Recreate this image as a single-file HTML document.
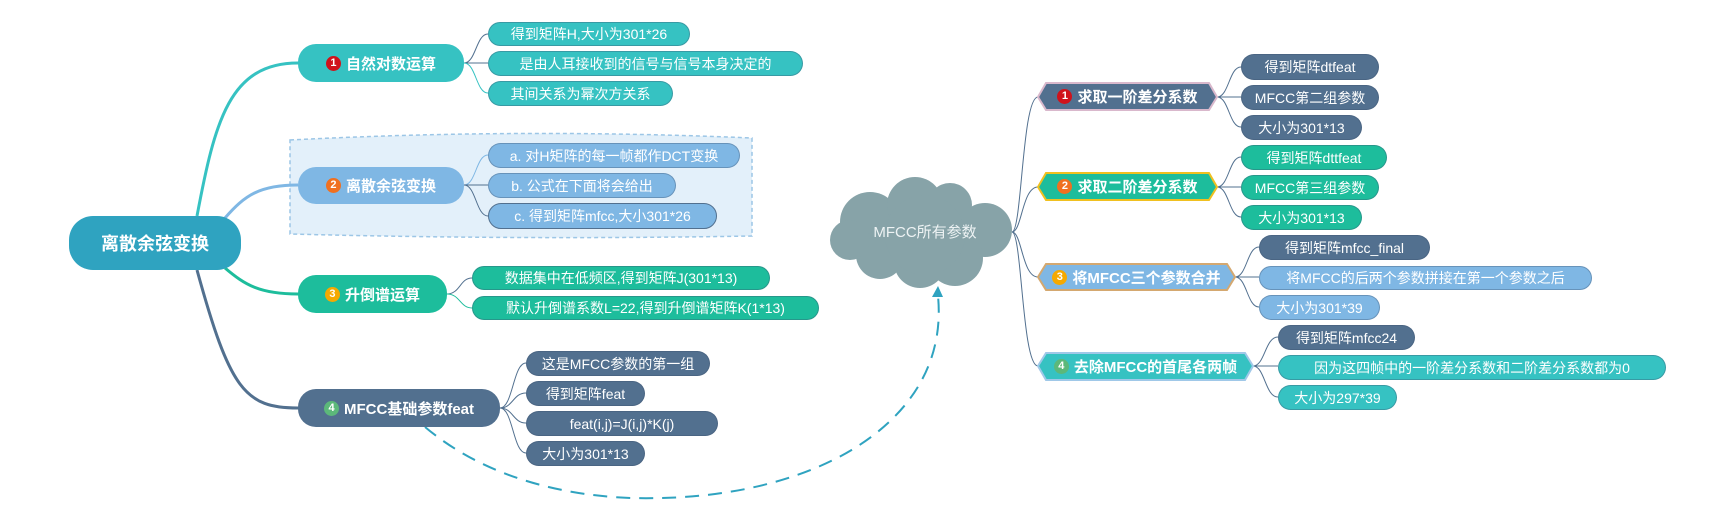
<!DOCTYPE html>
<html><head><meta charset="utf-8">
<style>
html,body{margin:0;padding:0;background:#fff;}
body{width:1731px;height:526px;position:relative;overflow:hidden;font-family:"Liberation Sans","Noto Sans CJK SC",sans-serif;}
.b{position:absolute;box-sizing:border-box;color:#fff;display:flex;align-items:center;justify-content:center;white-space:nowrap;}
.leaf{border-radius:13px;font-size:14px;border:1px solid rgba(60,80,110,0.35);}
.node{border-radius:18px;font-size:15px;font-weight:bold;}
.bd{display:inline-block;width:15px;height:15px;border-radius:50%;font-size:11px;line-height:15px;text-align:center;color:#fff;margin-right:5px;font-weight:bold;}
.tq{background:#36c2c2}.lb{background:#7fb7e4}.gr{background:#1dbd9c}.sl{background:#52708f}
.ht{position:absolute;color:#fff;font-size:15px;font-weight:bold;display:flex;align-items:center;justify-content:center;white-space:nowrap;}
</style></head><body>
<svg width="1731" height="526" style="position:absolute;left:0;top:0">
<path d="M290,140 Q520,128 752,138 L752,236 Q520,240 290,234 Z" fill="#e3f0fa" stroke="#9cc6e6" stroke-width="1.5" stroke-dasharray="4,3"/>
<path d="M197,216 C215,120 230,63 298,63" stroke="#36c2c2" stroke-width="3" fill="none"/>
<path d="M225,218 C245,195 260,185 298,185" stroke="#7fb7e4" stroke-width="3" fill="none"/>
<path d="M225,268 C245,285 260,294 298,294" stroke="#1dbd9c" stroke-width="3" fill="none"/>
<path d="M197,270 C230,390 245,408 298,408" stroke="#52708f" stroke-width="3" fill="none"/>
<g fill="none" stroke-width="1" stroke="#52708f">
<path d="M464,63 C476,63 476,34 488,34"/><path d="M464,63 L488,63"/><path d="M464,63 C476,63 476,93 488,93" stroke="#36c2c2"/>
<path d="M464,185 C476,185 476,155 488,155" stroke="#7fb7e4"/><path d="M464,185 L488,185"/><path d="M464,185 C476,185 476,216 488,216"/>
<path d="M447,294 C460,294 460,278 472,278"/><path d="M447,294 C460,294 460,308 472,308" stroke="#1dbd9c"/>
<path d="M500,408 C513,408 513,363 526,363"/><path d="M500,408 C513,408 513,393 526,393"/><path d="M500,408 C513,408 513,423 526,423"/><path d="M500,408 C513,408 513,453 526,453"/>
<path d="M1012,232 C1022,232 1022,97 1038,97"/><path d="M1012,232 C1022,232 1022,187 1038,187"/><path d="M1012,232 C1022,232 1022,277 1038,277"/><path d="M1012,232 C1022,232 1022,366 1038,366"/>
<path d="M1217,97 C1229,97 1229,67 1241,67"/><path d="M1217,97 L1241,97"/><path d="M1217,97 C1229,97 1229,127 1241,127"/>
<path d="M1217,187 C1229,187 1229,157 1241,157"/><path d="M1217,187 L1241,187"/><path d="M1217,187 C1229,187 1229,217 1241,217"/>
<path d="M1235,277 C1247,277 1247,247 1259,247"/><path d="M1235,277 L1259,277"/><path d="M1235,277 C1247,277 1247,307 1259,307"/>
<path d="M1253,366 C1265,366 1265,337 1278,337"/><path d="M1253,366 L1278,366"/><path d="M1253,366 C1265,366 1265,397 1278,397"/>
</g>
<path d="M425,427 C500,490 600,500 660,498 C820,495 950,420 938,296" stroke="#2fa3c0" stroke-width="2" fill="none" stroke-dasharray="14,9"/>
<path d="M932,297 L938,286 L943,297 Z" fill="#2fa3c0"/>
<g fill="#87a3a8">
<circle cx="870" cy="222" r="30"/><circle cx="915" cy="205" r="28"/><circle cx="950" cy="205" r="22"/><circle cx="985" cy="230" r="27"/><circle cx="955" cy="258" r="28"/><circle cx="920" cy="262" r="26"/><circle cx="880" cy="255" r="24"/><circle cx="850" cy="240" r="20"/><circle cx="925" cy="235" r="40"/>
</g>
<polygon points="1046,83 1209,83 1217,97 1209,110 1046,110 1038,97" fill="#52708f" stroke="#d9b8cc" stroke-width="2"/>
<polygon points="1046,173 1209,173 1217,187 1209,200 1046,200 1038,187" fill="#1dbd9c" stroke="#f0c020" stroke-width="2"/>
<polygon points="1046,264 1227,264 1235,277 1227,290 1046,290 1038,277" fill="#7fb7e4" stroke="#d4a870" stroke-width="2"/>
<polygon points="1046,353 1245,353 1253,366 1245,380 1046,380 1038,366" fill="#36c2c2" stroke="#a0c8e8" stroke-width="2"/>
</svg>
<div class="b" style="left:835px;top:220px;width:180px;height:22px;font-size:15px;color:#eef3f4;">MFCC所有参数</div>

<div class="b" style="left:69px;top:216px;width:172px;height:54px;border-radius:24px;background:#2fa3c0;font-size:18px;font-weight:bold;">离散余弦变换</div>

<div class="b node tq" style="left:298px;top:44px;width:166px;height:38px;"><span class="bd" style="background:#d0121b">1</span>自然对数运算</div>
<div class="b leaf tq" style="left:488px;top:22px;width:202px;height:24px;">得到矩阵H,大小为301*26</div>
<div class="b leaf tq" style="left:488px;top:51px;width:315px;height:25px;">是由人耳接收到的信号与信号本身决定的</div>
<div class="b leaf tq" style="left:488px;top:81px;width:185px;height:25px;">其间关系为幂次方关系</div>

<div class="b node lb" style="left:298px;top:167px;width:166px;height:37px;"><span class="bd" style="background:#f07020">2</span>离散余弦变换</div>
<div class="b leaf lb" style="left:488px;top:143px;width:252px;height:25px;">a. 对H矩阵的每一帧都作DCT变换</div>
<div class="b leaf lb" style="left:488px;top:173px;width:188px;height:25px;">b. 公式在下面将会给出</div>
<div class="b leaf lb" style="left:488px;top:203px;width:229px;height:26px;border-color:#52708f;">c. 得到矩阵mfcc,大小301*26</div>

<div class="b node gr" style="left:298px;top:275px;width:149px;height:38px;"><span class="bd" style="background:#f5a900">3</span>升倒谱运算</div>
<div class="b leaf gr" style="left:472px;top:266px;width:298px;height:24px;">数据集中在低频区,得到矩阵J(301*13)</div>
<div class="b leaf gr" style="left:472px;top:296px;width:347px;height:24px;">默认升倒谱系数L=22,得到升倒谱矩阵K(1*13)</div>

<div class="b node sl" style="left:298px;top:389px;width:202px;height:38px;"><span class="bd" style="background:#5cb87a">4</span>MFCC基础参数feat</div>
<div class="b leaf sl" style="left:526px;top:351px;width:184px;height:25px;">这是MFCC参数的第一组</div>
<div class="b leaf sl" style="left:526px;top:381px;width:119px;height:25px;">得到矩阵feat</div>
<div class="b leaf sl" style="left:526px;top:411px;width:192px;height:25px;">feat(i,j)=J(i,j)*K(j)</div>
<div class="b leaf sl" style="left:526px;top:441px;width:119px;height:25px;">大小为301*13</div>

<div class="ht" style="left:1038px;top:83px;width:179px;height:27px;"><span class="bd" style="background:#d0121b">1</span>求取一阶差分系数</div>
<div class="b leaf sl" style="left:1241px;top:54px;width:138px;height:26px;">得到矩阵dtfeat</div>
<div class="b leaf sl" style="left:1241px;top:85px;width:138px;height:25px;">MFCC第二组参数</div>
<div class="b leaf sl" style="left:1241px;top:115px;width:121px;height:25px;">大小为301*13</div>

<div class="ht" style="left:1038px;top:173px;width:179px;height:27px;"><span class="bd" style="background:#f07020">2</span>求取二阶差分系数</div>
<div class="b leaf gr" style="left:1241px;top:145px;width:146px;height:25px;">得到矩阵dttfeat</div>
<div class="b leaf gr" style="left:1241px;top:175px;width:138px;height:25px;">MFCC第三组参数</div>
<div class="b leaf gr" style="left:1241px;top:205px;width:121px;height:25px;">大小为301*13</div>

<div class="ht" style="left:1038px;top:264px;width:197px;height:26px;"><span class="bd" style="background:#f5a900">3</span>将MFCC三个参数合并</div>
<div class="b leaf sl" style="left:1259px;top:235px;width:171px;height:25px;">得到矩阵mfcc_final</div>
<div class="b leaf lb" style="left:1259px;top:266px;width:333px;height:24px;">将MFCC的后两个参数拼接在第一个参数之后</div>
<div class="b leaf lb" style="left:1259px;top:295px;width:121px;height:25px;">大小为301*39</div>

<div class="ht" style="left:1038px;top:353px;width:215px;height:27px;"><span class="bd" style="background:#5cb87a">4</span>去除MFCC的首尾各两帧</div>
<div class="b leaf sl" style="left:1278px;top:325px;width:137px;height:25px;">得到矩阵mfcc24</div>
<div class="b leaf tq" style="left:1278px;top:355px;width:388px;height:25px;">因为这四帧中的一阶差分系数和二阶差分系数都为0</div>
<div class="b leaf tq" style="left:1278px;top:385px;width:119px;height:25px;">大小为297*39</div>
</body></html>
